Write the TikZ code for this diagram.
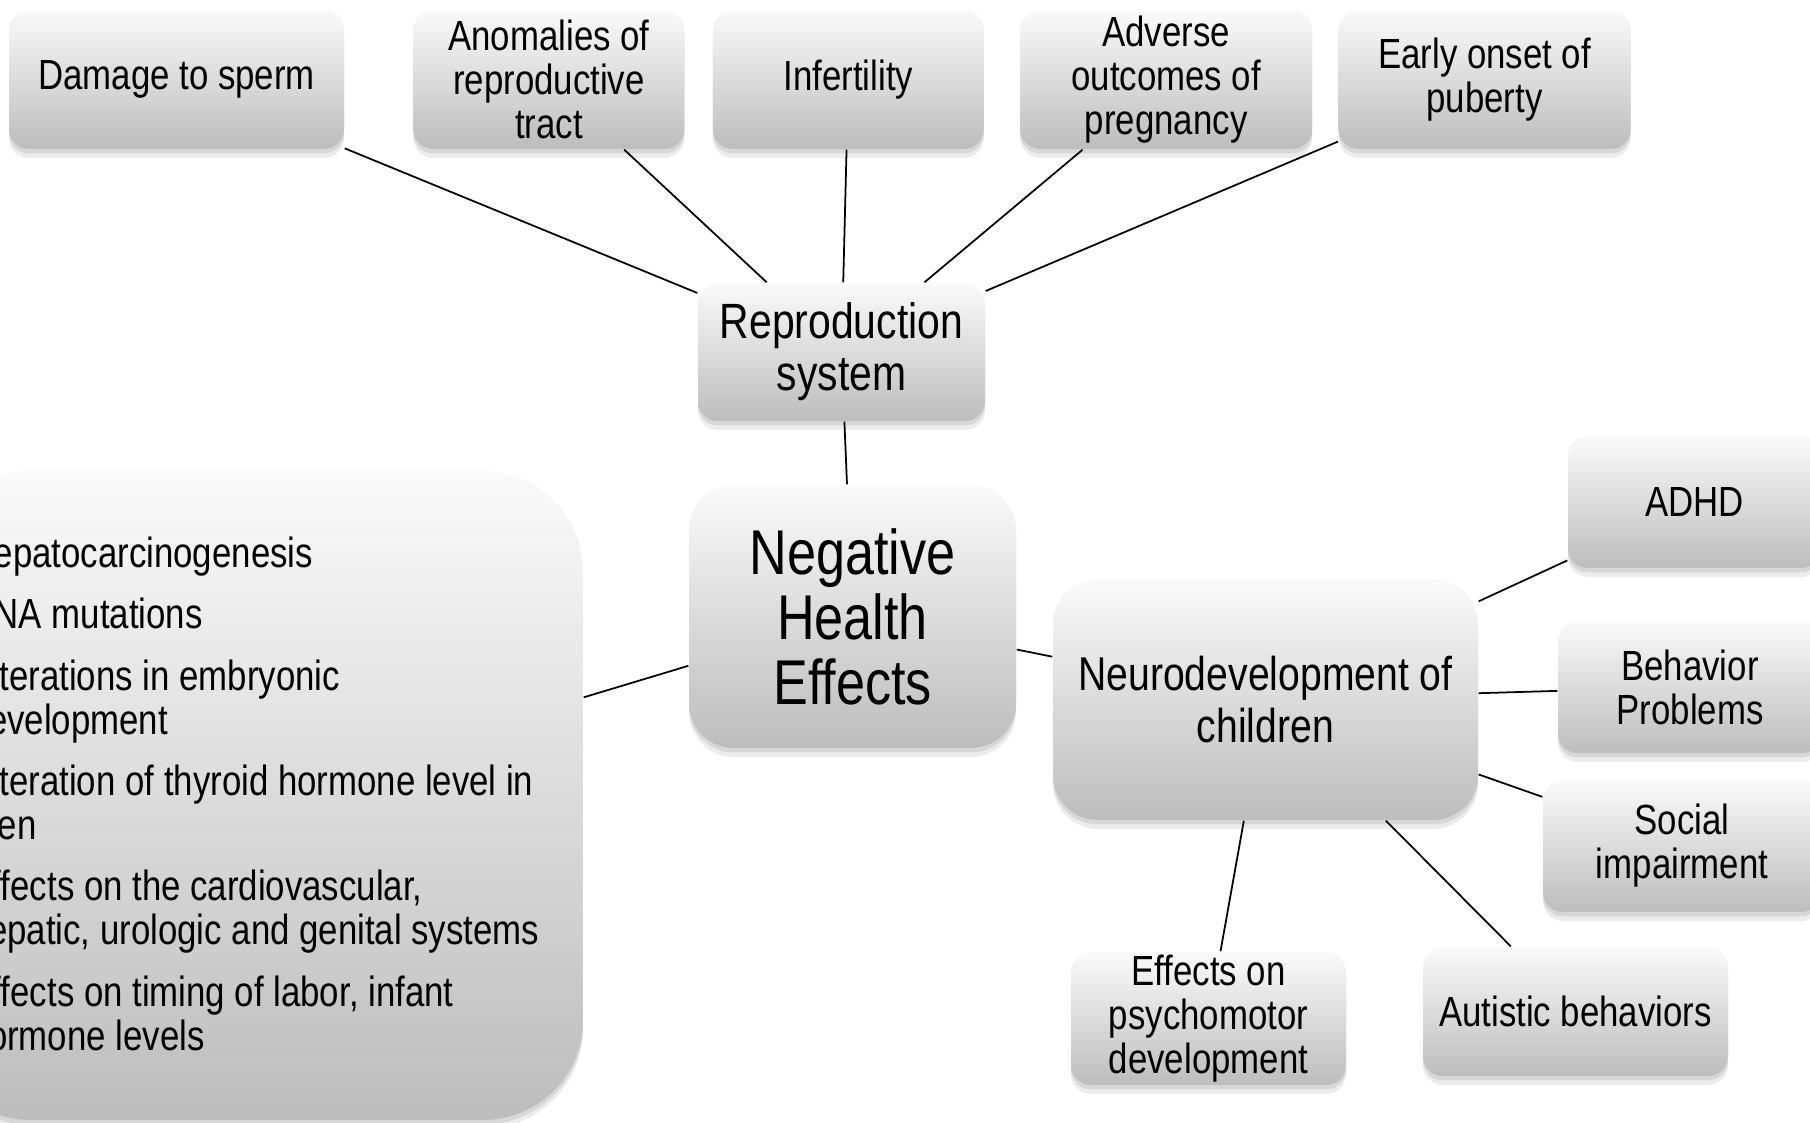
\documentclass[tikz,border=0pt]{standalone}
\usepackage{fontspec}
\setmainfont[FakeStretch=0.825]{Liberation Sans}
\usetikzlibrary{positioning,shadows,graphs}

\newcommand{\blt}{\makebox[3.2mm][l]{\textbullet}}
\newcommand{\hng}{\hspace*{3.2mm}}

\begin{document}
\begin{tikzpicture}[x=0.1mm,y=-0.1mm,
    box/.style={rounded corners=2mm, top color=black!2, bottom color=black!26,
      align=center, inner sep=0pt,
      drop shadow={shadow xshift=0mm, shadow yshift=-0.9mm, opacity=.15},
      drop shadow={shadow xshift=0mm, shadow yshift=-0.45mm, opacity=.2}},
    sm/.style={font=\fontsize{12}{12.5}\selectfont},
    md/.style={font=\fontsize{14.1}{14.8}\selectfont},
    lg/.style={font=\fontsize{18}{18.5}\selectfont}]
        \useasboundingbox (0,0) rectangle (1810,1123);
        \clip (0,0) rectangle (1810,1123);     %图片边缘裁掉左右两侧的框

        \node[box, sm, minimum width=33.5mm, minimum height=13.9mm] (a1) at (176.5,79.5) {Damage to sperm};
        \node[box, sm, minimum width=27.1mm, minimum height=13.9mm, right=6.8mm of a1] (a2) {Anomalies of\\reproductive\\tract};
        \node[box, sm, minimum width=27.1mm, minimum height=13.9mm, right=2.7mm of a2] (a3) {Infertility};
        \node[box, sm, minimum width=29.2mm, minimum height=13.9mm, right=3.5mm of a3] (a4) {Adverse\\outcomes of\\pregnancy};
        \node[box, sm, minimum width=29.2mm, minimum height=13.9mm, right=2.5mm of a4] (a5) {Early onset of\\puberty};

        \node[box, md, minimum width=28.7mm, minimum height=13.8mm] (rs) at (841.5,352) {Reproduction\\system};
        \node[box, lg, rounded corners=4.5mm, minimum width=32.7mm, minimum height=26.3mm] (ne) at (852.5,616.5) {Negative\\Health\\Effects};
        \node[box, rounded corners=10mm, minimum width=65.3mm, minimum height=64.9mm] (ot) at (256.5,795.5) {};
        \node[sm, align=left, anchor=north west, inner sep=0pt] (ol) at (-64,536) {%
          \blt Hepatocarcinogenesis\\[1.75mm]
          \blt DNA mutations\\[1.75mm]
          \blt Alterations in embryonic\\
          \hng development\\[1.75mm]
          \blt Alteration of thyroid hormone level in\\
          \hng men\\[1.75mm]
          \blt Effects on the cardiovascular,\\
          \hng hepatic, urologic and genital systems\\[1.75mm]
          \blt Effects on timing of labor, infant\\
          \hng hormone levels};

        \node[box, font=\fontsize{13.5}{14.6}\selectfont, rounded corners=4.5mm, minimum width=42.5mm, minimum height=24.1mm] (nd) at (1265.5,699.5) {Neurodevelopment of\\children};
        \node[box, sm, minimum width=25.3mm, minimum height=13.2mm] (c1) at (1694.5,502) {ADHD};
        \node[box, sm, minimum width=26.4mm, minimum height=13.2mm] (c2) at (1690,687) {Behavior\\Problems};
        \node[box, sm, minimum width=27.8mm, minimum height=13.2mm] (c3) at (1682,846) {Social\\impairment};
        \node[box, sm, minimum width=30.5mm, minimum height=12.9mm] (c4) at (1575.5,1011.5) {Autistic behaviors};
        \node[box, sm, minimum width=27.5mm, minimum height=13.3mm] (c5) at (1208.5,1018.5) {Effects on\\psychomotor\\development};

        \graph[use existing nodes, edges={line width=0.5pt}] {
          rs -- {a1, a2, a3, a4, a5};
          ne -- {rs, ot, nd};
          nd -- {c1, c2, c3, c4, c5};
        };
\end{tikzpicture}
\end{document}
